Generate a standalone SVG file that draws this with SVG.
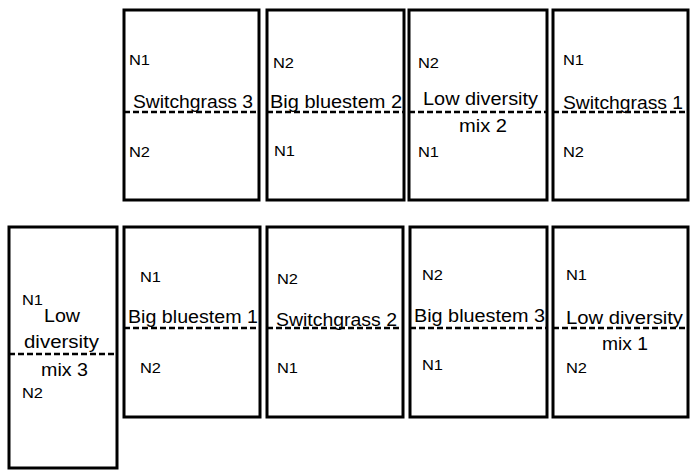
<svg xmlns="http://www.w3.org/2000/svg" width="700" height="476" viewBox="0 0 700 476">
<style>
.plot{fill:#fff;stroke:#000;stroke-width:3}
.div{stroke:#000;stroke-width:2.5;stroke-dasharray:6 3;fill:none}
.lbl{font-family:"Liberation Sans",Arial,sans-serif;font-size:17.5px;fill:#000}
.n{font-family:"Liberation Sans",Arial,sans-serif;font-size:15.5px;fill:#000}
</style>
<rect width="700" height="476" fill="#fff"/>
<g id="switchgrass3">
<rect class="plot" x="124" y="10" width="135" height="190"/>
<line class="div" x1="124" y1="112" x2="259" y2="112"/>
<text class="n" x="129" y="65" textLength="21" lengthAdjust="spacingAndGlyphs">N1</text>
<text class="lbl" x="133" y="108" textLength="120" lengthAdjust="spacingAndGlyphs">Switchgrass 3</text>
<text class="n" x="129" y="157" textLength="21" lengthAdjust="spacingAndGlyphs">N2</text>
</g>
<g id="bigbluestem2">
<rect class="plot" x="267" y="10" width="137" height="190"/>
<line class="div" x1="267" y1="112" x2="404" y2="112"/>
<text class="n" x="273" y="68" textLength="21" lengthAdjust="spacingAndGlyphs">N2</text>
<text class="lbl" x="270" y="108" textLength="132" lengthAdjust="spacingAndGlyphs">Big bluestem 2</text>
<text class="n" x="274" y="156" textLength="21" lengthAdjust="spacingAndGlyphs">N1</text>
</g>
<g id="lowdiversity2">
<rect class="plot" x="409" y="10" width="138" height="190"/>
<line class="div" x1="409" y1="112" x2="547" y2="112"/>
<text class="n" x="418" y="68" textLength="21" lengthAdjust="spacingAndGlyphs">N2</text>
<text class="lbl" x="423" y="105" textLength="115" lengthAdjust="spacingAndGlyphs">Low diversity</text>
<text class="lbl" x="459" y="132" textLength="48" lengthAdjust="spacingAndGlyphs">mix 2</text>
<text class="n" x="418" y="157" textLength="21" lengthAdjust="spacingAndGlyphs">N1</text>
</g>
<g id="switchgrass1">
<rect class="plot" x="553" y="10" width="135" height="190"/>
<line class="div" x1="553" y1="112" x2="688" y2="112"/>
<text class="n" x="563" y="65" textLength="21" lengthAdjust="spacingAndGlyphs">N1</text>
<text class="lbl" x="563" y="109" textLength="120" lengthAdjust="spacingAndGlyphs">Switchgrass 1</text>
<text class="n" x="563" y="157" textLength="21" lengthAdjust="spacingAndGlyphs">N2</text>
</g>
<g id="lowdiversity3">
<rect class="plot" x="9" y="227" width="108" height="241"/>
<line class="div" x1="9" y1="354" x2="117" y2="354"/>
<text class="n" x="22" y="305" textLength="21" lengthAdjust="spacingAndGlyphs">N1</text>
<text class="lbl" x="44" y="322" textLength="36" lengthAdjust="spacingAndGlyphs">Low</text>
<text class="lbl" x="24" y="348" textLength="75" lengthAdjust="spacingAndGlyphs">diversity</text>
<text class="lbl" x="41" y="376" textLength="47" lengthAdjust="spacingAndGlyphs">mix 3</text>
<text class="n" x="22" y="398" textLength="21" lengthAdjust="spacingAndGlyphs">N2</text>
</g>
<g id="bigbluestem1">
<rect class="plot" x="124" y="227" width="136" height="190"/>
<line class="div" x1="124" y1="328" x2="260" y2="328"/>
<text class="n" x="140" y="282" textLength="21" lengthAdjust="spacingAndGlyphs">N1</text>
<text class="lbl" x="128" y="323" textLength="130" lengthAdjust="spacingAndGlyphs">Big bluestem 1</text>
<text class="n" x="140" y="373" textLength="21" lengthAdjust="spacingAndGlyphs">N2</text>
</g>
<g id="switchgrass2">
<rect class="plot" x="267" y="227" width="136" height="190"/>
<line class="div" x1="267" y1="328" x2="403" y2="328"/>
<text class="n" x="277" y="284" textLength="21" lengthAdjust="spacingAndGlyphs">N2</text>
<text class="lbl" x="276" y="326" textLength="121" lengthAdjust="spacingAndGlyphs">Switchgrass 2</text>
<text class="n" x="277" y="373" textLength="21" lengthAdjust="spacingAndGlyphs">N1</text>
</g>
<g id="bigbluestem3">
<rect class="plot" x="410" y="227" width="137" height="190"/>
<line class="div" x1="410" y1="328" x2="547" y2="328"/>
<text class="n" x="422" y="280" textLength="21" lengthAdjust="spacingAndGlyphs">N2</text>
<text class="lbl" x="414" y="322" textLength="131" lengthAdjust="spacingAndGlyphs">Big bluestem 3</text>
<text class="n" x="422" y="370" textLength="21" lengthAdjust="spacingAndGlyphs">N1</text>
</g>
<g id="lowdiversity1">
<rect class="plot" x="553" y="227" width="135" height="190"/>
<line class="div" x1="553" y1="328" x2="688" y2="328"/>
<text class="n" x="566" y="280" textLength="21" lengthAdjust="spacingAndGlyphs">N1</text>
<text class="lbl" x="566" y="324" textLength="117" lengthAdjust="spacingAndGlyphs">Low diversity</text>
<text class="lbl" x="602" y="350" textLength="46" lengthAdjust="spacingAndGlyphs">mix 1</text>
<text class="n" x="566" y="373" textLength="21" lengthAdjust="spacingAndGlyphs">N2</text>
</g>
<g id="connectors"></g>
</svg>
